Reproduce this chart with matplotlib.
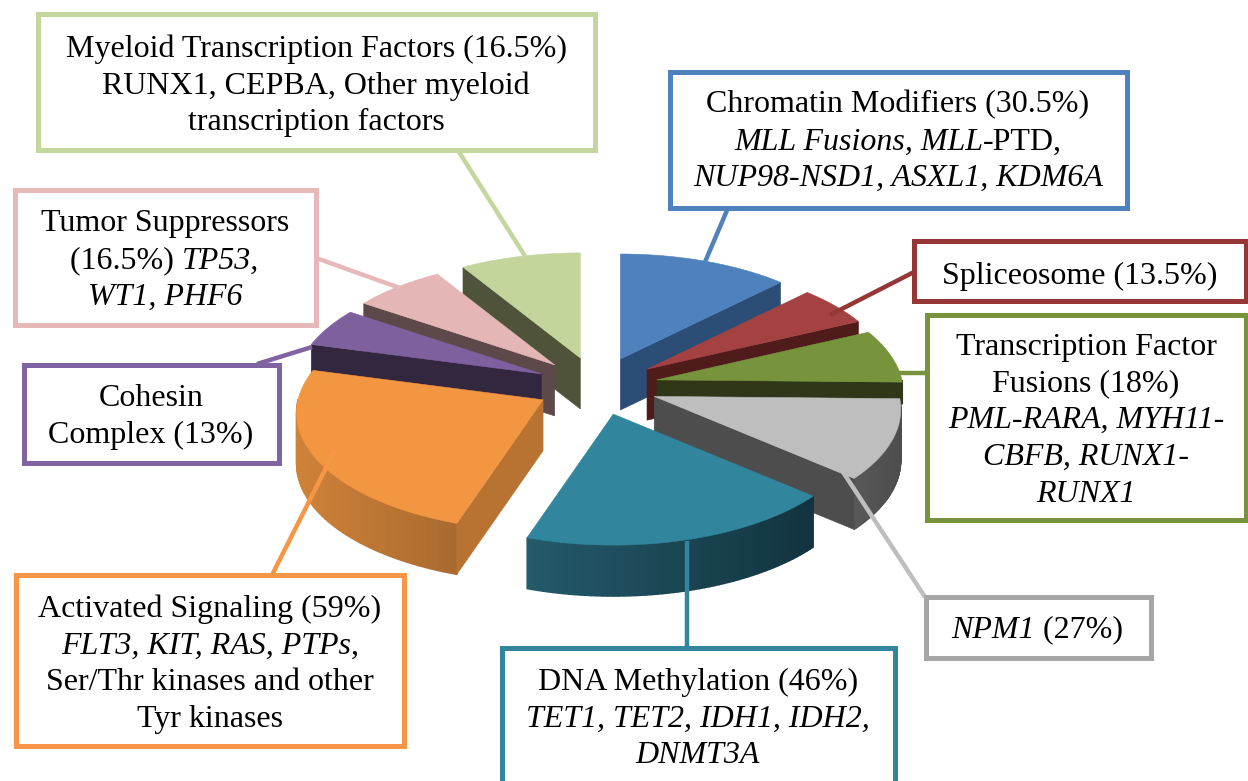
import numpy as np
import matplotlib
matplotlib.use("Agg")
import matplotlib.pyplot as plt
from matplotlib.colors import to_rgb
from matplotlib.patches import Polygon, Rectangle

plt.rcParams["font.family"] = ["Liberation Serif", "DejaVu Serif"]

# slice sizes, clockwise from 12 o'clock. the last slice
# is drawn bigger than its 16.5% label says
slice_values = [30.5, 13.5, 18, 27, 46, 59, 13, 16.5, 21.5]
top_colors = ["#4f81bd", "#a44241", "#77933c", "#bebebe", "#31859c",
              "#f39642", "#7f609f", "#e4b7b6", "#c3d59a"]
wall_colors = ["#2c4d75", "#4f1b1b", "#2f3718", "#4d4d4d", "#12333f",
               "#b87333", "#33263f", "#5d4949", "#4f533a"]
rim_left = ["#2c4d75", "#4f1b1b", "#2f3718", "#585858", "#245a6a",
            "#d08238", "#33263f", "#5d4949", "#4f533a"]
rim_right = ["#2c4d75", "#4f1b1b", "#2f3718", "#4d4d4d", "#12333f",
             "#a86a30", "#33263f", "#5d4949", "#4f533a"]
box_colors = ["#4f81bd", "#953735", "#77933c", "#a6a6a6", "#31859c",
              "#f79646", "#8064a2", "#e6b9b8", "#c3d69b"]
leader_colors = ["#4f81bd", "#953735", "#77933c", "#bebebe", "#31859c",
                 "#f79646", "#8064a2", "#e6b9b8", "#c3d69b"]

# each line is a list of (text, italic) runs
labels = [
    [[("Chromatin Modifiers (30.5%)", False)],
     [("MLL Fusions, MLL", True), ("-PTD,", False)],
     [("NUP98-NSD1, ASXL1, KDM6A", True)]],
    [[("Spliceosome (13.5%)", False)]],
    [[("Transcription Factor", False)],
     [("Fusions (18%)", False)],
     [("PML-RARA, MYH11-", True)],
     [("CBFB, RUNX1-", True)],
     [("RUNX1", True)]],
    [[("NPM1", True), (" (27%)", False)]],
    [[("DNA Methylation (46%)", False)],
     [("TET1, TET2, IDH1, IDH2,", True)],
     [("DNMT3A", True)]],
    [[("Activated Signaling (59%)", False)],
     [("FLT3, KIT, RAS, PTPs", True), (",", False)],
     [("Ser/Thr kinases and other", False)],
     [("Tyr kinases", False)]],
    [[("Cohesin", False)],
     [("Complex (13%)", False)]],
    [[("Tumor Suppressors", False)],
     [("(16.5%) ", False), ("TP53,", True)],
     [("WT1, PHF6", True)]],
    [[("Myeloid Transcription Factors (16.5%)", False)],
     [("RUNX1, CEPBA, Other myeloid", False)],
     [("transcription factors", False)]],
]

# box as x0, y0, x1, y1 in pixels, first text baseline centre, leader line
boxes = [
    (670, 72, 1127, 208), (914, 241, 1246, 301), (927, 315, 1246, 520),
    (926, 597, 1151, 658), (502, 648, 895, 790), (16, 575, 404, 746),
    (24, 365, 279, 463), (15, 190, 316, 325), (38, 14, 595, 150),
]
text_pos = [(898, 105), (1080, 276), (1086, 347), (1037, 630), (698, 682),
            (210, 609), (151, 399), (165, 224), (316, 49)]
leaders = [
    ((728, 208), (705, 262)), ((914, 272), (830, 315)), ((927, 373), (837, 373)),
    ((925, 597), (820, 437)), ((687, 648), (687, 541)), ((272, 575), (335, 450)),
    ((257, 364), (312, 347)), ((316, 258), (400, 288)), ((459, 152), (525, 256)),
]

# pie projection, pixels
center = (597, 386)
rx, ry, persp = 245, 116.6, 0.11
explode = 0.25
# green only shows a strip above the grey slice, its wall must not poke out past it
depths = [51, 51, 22, 51, 51, 51, 51, 51, 51]
fs = 23
line_h = 36.9


def project(theta):
    # clockwise from the top, y down like the image
    s = 1 + persp * np.cos(theta)
    return rx * np.sin(theta) / s, -ry * np.cos(theta) / s


def mix(c1, c2, t):
    a, b = np.array(to_rgb(c1)), np.array(to_rgb(c2))
    return tuple(a + (b - a) * t)


def text_width(ax, s, italic, renderer):
    # "|" keeps the spaces at the ends of a run in the measure
    style = "italic" if italic else "normal"
    t1 = ax.text(0, 0, s + "|", fontsize=fs, style=style)
    t2 = ax.text(0, 0, "|", fontsize=fs, style=style)
    w = t1.get_window_extent(renderer).width - t2.get_window_extent(renderer).width
    t1.remove()
    t2.remove()
    return w


def draw_line(ax, runs, xc, y, renderer):
    widths = [text_width(ax, s, it, renderer) for s, it in runs]
    x = xc - sum(widths) / 2
    for (s, it), w in zip(runs, widths):
        ax.text(x, y, s, fontsize=fs, style="italic" if it else "normal",
                ha="left", va="center", color="black", zorder=6)
        x += w


def draw_slice(ax, i, a0, a1):
    mid = (a0 + a1) / 2
    ax0 = center[0] + explode * rx * np.sin(mid)
    ay0 = center[1] - explode * ry * np.cos(mid)
    th = np.linspace(a0, a1, 60)
    px, py = project(th)
    px, py = ax0 + px, ay0 + py
    z = 2 + order.index(i) * 0.01
    depth = depths[i]

    # outer rim, only the part facing us, split in strips for the shading
    left_x, right_x = px.min(), px.max()
    for k in range(len(th) - 1):
        if np.cos((th[k] + th[k + 1]) / 2) > 0:
            continue
        t = ((px[k] + px[k + 1]) / 2 - left_x) / max(right_x - left_x, 1)
        col = mix(rim_left[i], rim_right[i], t)
        quad = [(px[k], py[k]), (px[k + 1], py[k + 1]),
                (px[k + 1], py[k + 1] + depth), (px[k], py[k] + depth)]
        ax.add_patch(Polygon(quad, closed=True, fc=col, ec=col, lw=1.0, zorder=z))

    # the cut faces that look towards us
    if np.sin(a0) < -1e-6:
        walls = [(px[0], py[0])]
    else:
        walls = []
    if np.sin(a1) > 1e-6:
        walls.append((px[-1], py[-1]))
    for ex, ey in walls:
        quad = [(ax0, ay0), (ex, ey), (ex, ey + depth), (ax0, ay0 + depth)]
        ax.add_patch(Polygon(quad, closed=True, fc=wall_colors[i], ec=wall_colors[i],
                             lw=0.4, zorder=z + 0.001))

    top = [(ax0, ay0)] + list(zip(px, py))
    ax.add_patch(Polygon(top, closed=True, fc=top_colors[i], ec=top_colors[i],
                         lw=0.4, zorder=z + 0.002))


fig = plt.figure(figsize=(12.48, 7.81), dpi=100)
ax = fig.add_axes([0, 0, 1, 1])
ax.set_xlim(0, 1248)
ax.set_ylim(781, 0)
ax.axis("off")

# back to front, so the nearer slices cover the walls behind them
order = [8, 0, 7, 1, 6, 2, 5, 3, 4]
edges = np.concatenate([[0], np.cumsum(slice_values)]) / sum(slice_values) * 2 * np.pi
for i in order:
    draw_slice(ax, i, edges[i], edges[i + 1])

renderer = fig.canvas.get_renderer()
for i, (x0, y0, x1, y1) in enumerate(boxes):
    (lx0, ly0), (lx1, ly1) = leaders[i]
    ax.plot([lx0, lx1], [ly0, ly1], color=leader_colors[i], lw=3.2, zorder=4,
            solid_capstyle="butt")
    ax.add_patch(Rectangle((x0, y0), x1 - x0, y1 - y0, fc="white", ec=box_colors[i],
                           lw=3.6, zorder=5, joinstyle="miter"))
    xc, yc = text_pos[i]
    for n, runs in enumerate(labels[i]):
        draw_line(ax, runs, xc, yc + n * line_h, renderer)

fig.savefig("out.png", dpi=100)
